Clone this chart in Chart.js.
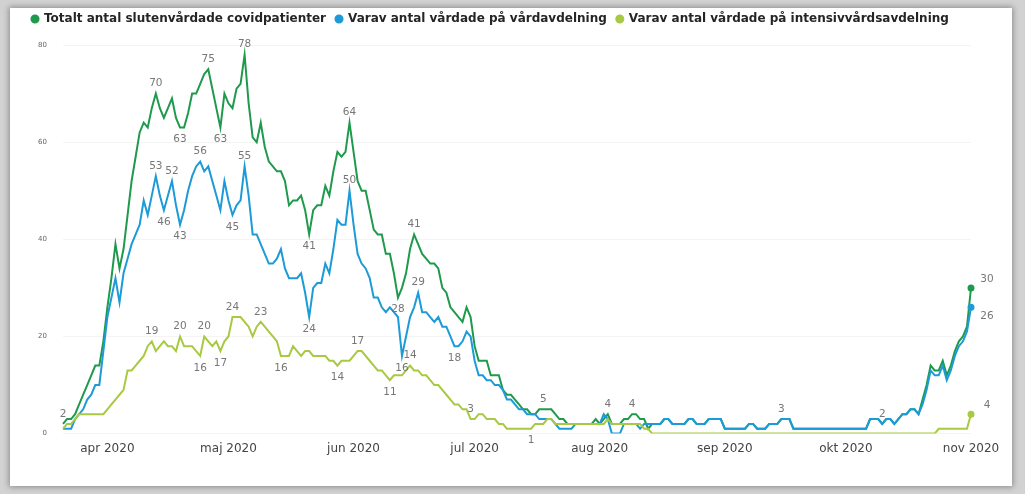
<!DOCTYPE html>
<html><head><meta charset="utf-8">
<script src="https://cdn.jsdelivr.net/npm/chart.js@4.4.1/dist/chart.umd.min.js"></script>
<style>
html,body{margin:0;padding:0;width:1025px;height:494px;overflow:hidden;background:#d2d2d2;}
#card{position:absolute;left:10px;top:8px;width:1002px;height:478px;background:#fff;box-shadow:0 0 6px 1px rgba(0,0,0,0.35);}
#c{position:absolute;left:0;top:0;}
</style></head><body>
<div id="card"></div>
<canvas id="c" width="1025" height="494"></canvas>
<script>
// ---- data ----
const startDate = '2020-03-21';
const monthNames = ['jan','feb','mar','apr','maj','jun','jul','aug','sep','okt','nov','dec'];
const seriesNames = [
  'Totalt antal slutenvårdade covidpatienter',
  'Varav antal vårdade på vårdavdelning',
  'Varav antal vårdade på intensivvårdsavdelning'
];
const totalPatients = [
  2,3,3,4,6,8,10,12,14,14,
  19,26,32,39,34,38,45,52,57,62,
  64,63,67,70,67,65,67,69,65,63,
  63,66,70,70,72,74,75,71,67,63,
  70,68,67,71,72,78,68,61,60,64,
  59,56,55,54,54,52,47,48,48,49,
  46,41,46,47,47,51,49,54,58,57,
  58,64,58,52,50,50,46,42,41,41,
  37,37,33,28,30,33,38,41,39,37,
  36,35,35,34,30,29,26,25,24,23,
  26,24,18,15,15,15,12,12,12,9,
  8,8,7,6,5,5,4,4,5,5,
  5,5,4,3,3,2,2,2,2,2,
  2,2,3,2,3,4,2,2,2,3,
  3,4,4,3,3,1,2,2,2,3,
  3,2,2,2,2,3,3,2,2,2,
  3,3,3,3,1,1,1,1,1,1,
  2,2,1,1,1,2,2,2,3,3,
  3,1,1,1,1,1,1,1,1,1,
  1,1,1,1,1,1,1,1,1,1,
  3,3,3,2,3,3,2,3,4,4,
  5,5,4,7,10,14,13,13,15,12,
  14,17,19,20,22,30
];
const wardPatients = [
  1,1,1,3,4,5,7,8,10,10,
  17,24,28,32,27,33,36,39,41,43,
  48,45,49,53,49,46,49,52,47,43,
  46,50,53,55,56,54,55,52,49,46,
  52,48,45,47,48,55,49,41,41,39,
  37,35,35,36,38,34,32,32,32,33,
  29,24,30,31,31,35,33,38,44,43,
  43,50,43,37,35,34,32,28,28,26,
  25,26,25,24,16,20,24,26,29,25,
  25,24,23,24,22,22,20,18,18,19,
  21,20,15,12,12,11,11,10,10,9,
  7,7,6,5,5,4,4,4,3,3,
  3,3,2,1,1,1,1,2,2,2,
  2,2,2,2,4,3,0,0,0,2,
  2,2,2,1,2,2,2,2,2,3,
  3,2,2,2,2,3,3,2,2,2,
  3,3,3,3,1,1,1,1,1,1,
  2,2,1,1,1,2,2,2,3,3,
  3,1,1,1,1,1,1,1,1,1,
  1,1,1,1,1,1,1,1,1,1,
  3,3,3,2,3,3,2,3,4,4,
  5,5,4,6,9,13,12,12,14,11,
  13,16,18,19,21,26
];
const icuPatients = [
  1,2,2,3,4,4,4,4,4,4,
  4,5,6,7,8,9,13,13,14,15,
  16,18,19,17,18,19,18,18,17,20,
  18,18,18,17,16,20,19,18,19,17,
  19,20,24,24,24,23,22,20,22,23,
  22,21,20,19,16,16,16,18,17,16,
  17,17,16,16,16,16,15,15,14,15,
  15,15,16,17,17,16,15,14,13,13,
  12,11,12,12,12,13,14,13,13,12,
  12,11,10,10,9,8,7,6,6,5,
  5,3,3,4,4,3,3,3,2,2,
  1,1,1,1,1,1,1,2,2,2,
  3,3,2,2,2,2,2,2,2,2,
  2,2,2,2,2,3,2,2,2,2,
  2,2,2,2,1,1,0,0,0,0,
  0,0,0,0,0,0,0,0,0,0,
  0,0,0,0,0,0,0,0,0,0,
  0,0,0,0,0,0,0,0,0,0,
  0,0,0,0,0,0,0,0,0,0,
  0,0,0,0,0,0,0,0,0,0,
  0,0,0,0,0,0,0,0,0,0,
  0,0,0,0,0,0,0,1,1,1,
  1,1,1,1,1,4
];
// indices of labelled points and where the label sits (a = above, b = below, ra/rb = right of end point)
const totalLabelIdx = [0,23,29,36,39,45,61,71,83,87,119,135,141,225];
const totalLabelPos = ['a','a','b','a','b','a','b','a','b','a','a','a','a','ra'];
const wardLabelIdx = [23,25,27,29,34,42,45,61,71,84,88,97,178,203,225];
const wardLabelPos = ['a','b','a','b','a','b','a','b','a','b','a','b','a','a','rb'];
const icuLabelIdx = [22,29,34,35,39,42,49,54,68,73,81,86,101,116,225];
const icuLabelPos = ['a','a','b','a','b','a','a','b','b','a','b','a','a','b','ra'];

// ---- categories (consecutive days) ----
const dates = [];
{
  const d0 = new Date(startDate + 'T12:00:00Z');
  for (let i = 0; i < totalPatients.length; i++) {
    const d = new Date(d0.getTime() + i * 86400000);
    dates.push(d.toISOString().slice(0, 10));
  }
}

const GREEN = '#1f9a4c', BLUE = '#1d9ad8', YELLOW = '#a8c941';
const lastIdx = totalPatients.length - 1;
const endDot = c => (c.dataIndex === lastIdx ? 2.5 : 0);

const legendGap = {
  id: 'legendGap',
  afterInit(chart) {
    const lg = chart.legend;
    if (!lg) return;
    const orig = lg.fit;
    lg.fit = function () { orig.call(this); this.height += 10; };
  }
};

const pointLabels = {
  id: 'pointLabels',
  afterDatasetsDraw(chart) {
    const ctx = chart.ctx;
    ctx.save();
    ctx.font = '10.5px "DejaVu Sans"';
    ctx.fillStyle = '#777';
    ctx.textAlign = 'center';
    ctx.textBaseline = 'middle';
    chart.data.datasets.forEach((ds, di) => {
      const meta = chart.getDatasetMeta(di);
      const idxs = ds.labelIdx || [], pos = ds.labelPos || [];
      idxs.forEach((idx, k) => {
        const pt = meta.data[idx];
        if (!pt) return;
        let x = pt.x, y = pt.y;
        const p = pos[k];
        if (p === 'a') y -= 10;
        else if (p === 'b') y += 12;
        else if (p === 'ra') { x += 16; y -= 9; }
        else if (p === 'rb') { x += 16; y += 9; }
        ctx.fillText(String(ds.data[idx]), x, y);
      });
    });
    ctx.restore();
  }
};

new Chart(document.getElementById('c'), {
  type: 'line',
  data: {
    labels: dates,
    datasets: [
      { label: seriesNames[0], data: totalPatients, borderColor: GREEN, backgroundColor: GREEN,
        borderWidth: 2, pointRadius: endDot, pointHoverRadius: 0, tension: 0, order: 3,
        labelIdx: totalLabelIdx, labelPos: totalLabelPos },
      { label: seriesNames[1], data: wardPatients, borderColor: BLUE, backgroundColor: BLUE,
        borderWidth: 2, pointRadius: endDot, pointHoverRadius: 0, tension: 0, order: 2,
        labelIdx: wardLabelIdx, labelPos: wardLabelPos },
      { label: seriesNames[2], data: icuPatients, borderColor: YELLOW, backgroundColor: YELLOW,
        borderWidth: 2, pointRadius: endDot, pointHoverRadius: 0, tension: 0, order: 1,
        labelIdx: icuLabelIdx, labelPos: icuLabelPos }
    ]
  },
  options: {
    responsive: false,
    animation: false,
    devicePixelRatio: 1,
    layout: { padding: { left: 22, right: 54, top: 3, bottom: 30 } },
    plugins: {
      legend: {
        position: 'top', align: 'start',
        labels: {
          usePointStyle: true, pointStyle: 'circle', boxWidth: 6, boxHeight: 5, padding: 10,
          color: '#252525', font: { family: 'DejaVu Sans', size: 12, weight: 'bold' },
          sort: (a, b) => a.datasetIndex - b.datasetIndex
        }
      },
      tooltip: { enabled: false }
    },
    scales: {
      x: {
        type: 'category',
        grid: { display: false, drawTicks: false },
        border: { display: false },
        ticks: {
          autoSkip: false, maxRotation: 0, minRotation: 0, padding: 8,
          color: '#444', font: { family: 'DejaVu Sans', size: 12 },
          callback(v) {
            const s = this.getLabelForValue(v);
            if (s.slice(8, 10) !== '01') return '';
            return monthNames[parseInt(s.slice(5, 7), 10) - 1] + ' ' + s.slice(0, 4);
          }
        }
      },
      y: {
        min: 0, max: 80,
        ticks: { stepSize: 20, padding: 16, color: '#666', font: { family: 'DejaVu Sans', size: 7 } },
        grid: { color: 'rgba(0,0,0,0.045)', drawTicks: false },
        border: { display: false },
        afterFit(s) { s.width = 41; }
      }
    }
  },
  plugins: [legendGap, pointLabels]
});
</script></body></html>
